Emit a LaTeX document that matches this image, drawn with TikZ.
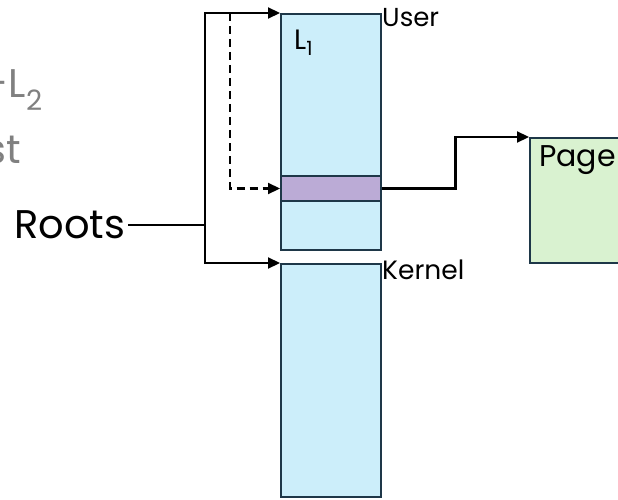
\documentclass[tikz,border=0pt]{standalone}
\usepackage{fontspec}
\setmainfont{Poppins}
\usetikzlibrary{arrows.meta,calc}
\definecolor{memfill}{RGB}{204,238,250}
\definecolor{memedge}{RGB}{30,55,72}
\definecolor{ptefill}{RGB}{187,171,214}
\definecolor{pagefill}{RGB}{217,242,208}
\definecolor{dimtext}{RGB}{128,128,128}
\tikzset{
  region/.style={draw=memedge, line width=2pt, anchor=north west, inner sep=0pt},
  conn/.style={draw=black, line width=2.2pt},
  connarrow/.style={conn, -{Triangle[length=12pt,width=11pt]}},
  dashconn/.style={connarrow, dash pattern=on 8pt off 5pt},
  lbl/.style={inner sep=0pt, anchor=base west},
}
\begin{document}
\begin{tikzpicture}[x=1pt,y=-1pt]
\useasboundingbox (0,0) rectangle (618,500);
\clip (0,0) rectangle (618,500);

% faded slide text on the left
\node[inner sep=0pt, anchor=base east, text=dimtext, font=\fontsize{40}{44}\selectfont] (fadeA) at (43,98) {-L\textsubscript{2}};
\node[inner sep=0pt, anchor=base east, text=dimtext, font=\fontsize{40}{44}\selectfont] (fadeB) at (21,163) {st};

% address space regions
\node[region, fill=memfill, minimum width=100pt, minimum height=236pt] (user) at (280,13) {};
\node[region, fill=ptefill, minimum width=100pt, minimum height=25pt] (pte) at (280,175) {};
\node[region, fill=memfill, minimum width=100pt, minimum height=233pt] (kernel) at (280,263) {};
\node[region, fill=pagefill, minimum width=120pt, minimum height=125pt] (page) at (529,137) {};

% labels
\node[lbl, font=\fontsize{28}{30}\selectfont] (l1) at (294,50) {L\textsubscript{1}};
\node[lbl, font=\fontsize{26}{28}\selectfont] (userlbl) at (382,27) {User};
\node[lbl, font=\fontsize{26.5}{28}\selectfont] (kernlbl) at (382,279) {Kernel};
\node[lbl, font=\fontsize{30}{32}\selectfont] (pagelbl) at (539,166) {Page};
\node[lbl, font=\fontsize{40}{42}\selectfont] (roots) at (14,238) {Roots};

% connectors
\coordinate (jn) at (205,225);
\coordinate (dsplit) at (230,0 |- user.north west);
\coordinate (mid) at ($(pte.east)!0.5!(page.north west)$);
\draw[conn] (roots.east |- jn) ++(3,0) -- (jn);
\draw[connarrow] (jn) |- (user.north west);
\draw[connarrow] (jn) |- (kernel.north west);
\draw[dashconn] (dsplit) |- (pte.west);
\draw[connarrow] (pte.east) -| (mid) |- (page.north west);
\end{tikzpicture}
\end{document}
